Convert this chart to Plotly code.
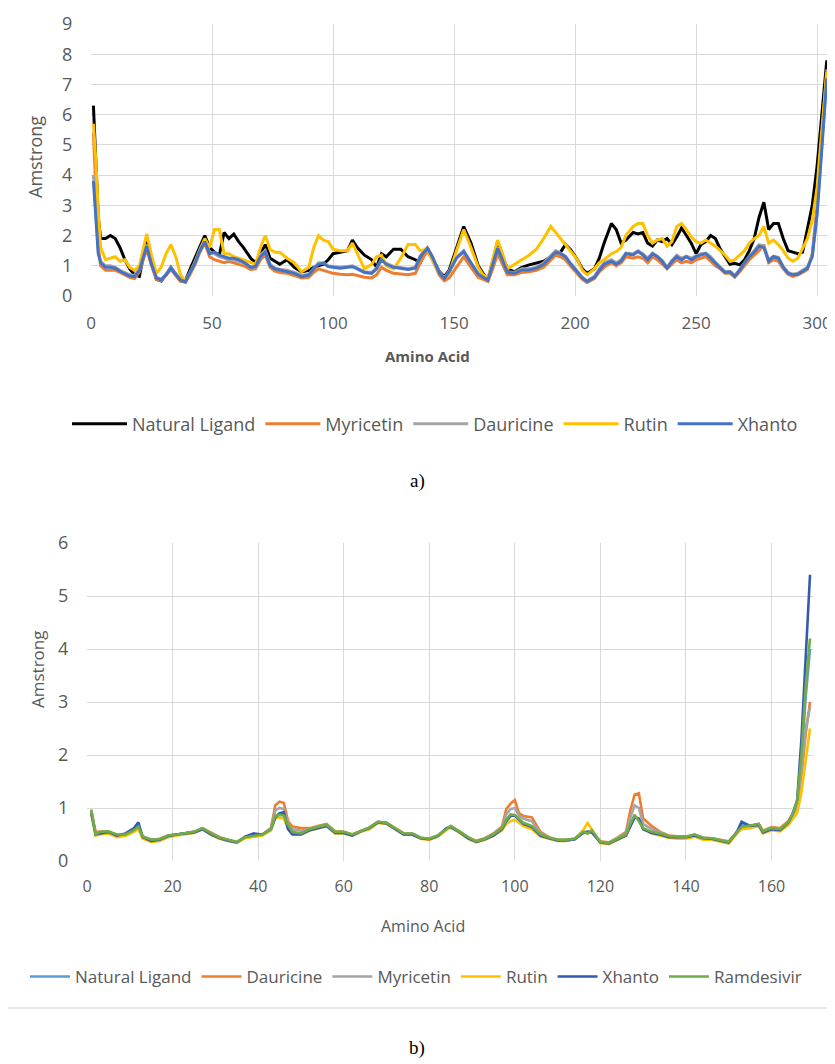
import plotly.graph_objects as go

# ---------------- Panel a) ----------------
X_A = [
    1, 2, 3, 4, 6, 8, 10, 12, 14, 16,
    18, 20, 23, 25, 27, 29, 31, 33, 35, 37,
    39, 41, 43, 45, 47, 49, 51, 53, 55, 57,
    59, 61, 63, 66, 68, 70, 72, 74, 76, 78,
    81, 84, 87, 90, 92, 94, 96, 98, 100, 103,
    106, 108, 110, 113, 116, 118, 120, 122, 125, 128,
    131, 134, 136, 139, 141, 144, 146, 148, 151, 154,
    157, 160, 162, 164, 166, 168, 170, 172, 175, 178,
    181, 184, 187, 190, 192, 194, 196, 198, 201, 203,
    205, 208, 210, 212, 215, 217, 219, 221, 224, 226,
    228, 230, 232, 234, 236, 238, 240, 242, 244, 246,
    248, 250, 252, 254, 256, 258, 260, 262, 264, 266,
    268, 270, 272, 274, 276, 278, 280, 282, 284, 286,
    288, 290, 292, 294, 296, 298, 300, 301, 302, 304,
]

A_NATURAL_LIGAND = [
    6.3, 4.2, 2.6, 1.9, 1.9, 2.0, 1.9, 1.6, 1.2, 0.9,
    0.7, 0.65, 1.85, 1.2, 0.55, 0.5, 0.7, 0.95, 0.7, 0.5,
    0.5, 0.9, 1.25, 1.6, 2.0, 1.6, 1.45, 1.35, 2.1, 1.9,
    2.05, 1.8, 1.6, 1.25, 1.1, 1.4, 1.7, 1.25, 1.15, 1.05,
    1.2, 0.95, 0.8, 0.85, 0.95, 1.0, 1.05, 1.2, 1.4, 1.45,
    1.5, 1.85, 1.6, 1.35, 1.2, 0.95, 1.4, 1.3, 1.55, 1.55,
    1.3, 1.2, 1.1, 1.6, 1.25, 0.8, 0.64, 0.86, 1.6, 2.3,
    1.75, 1.0, 0.75, 0.55, 1.15, 1.8, 1.35, 0.9, 0.8, 0.95,
    1.03, 1.1, 1.15, 1.3, 1.4, 1.45, 1.7, 1.55, 1.2, 0.9,
    0.75, 0.9, 1.25, 1.75, 2.4, 2.2, 1.75, 1.85, 2.1, 2.05,
    2.1, 1.75, 1.65, 1.85, 1.8, 1.9, 1.7, 1.95, 2.25, 2.0,
    1.75, 1.4, 1.7, 1.8, 2.0, 1.9, 1.55, 1.3, 1.05, 1.08,
    1.03, 1.2, 1.5, 1.9, 2.6, 3.1, 2.2, 2.4, 2.4, 1.9,
    1.5, 1.45, 1.4, 1.45, 2.2, 3.0, 4.3, 5.2, 6.1, 7.8,
]

A_MYRICETIN = [
    5.4, 3.5, 1.6, 1.0, 0.85, 0.85, 0.85, 0.78, 0.7, 0.62,
    0.58, 0.8, 1.55, 1.0, 0.55, 0.5, 0.68, 0.88, 0.68, 0.5,
    0.45, 0.72, 1.05, 1.45, 1.75, 1.3, 1.2, 1.15, 1.1, 1.15,
    1.1, 1.05, 1.0, 0.88, 0.9, 1.2, 1.35, 0.95, 0.82, 0.78,
    0.75, 0.68, 0.6, 0.62, 0.78, 0.9, 0.85, 0.78, 0.75, 0.72,
    0.7, 0.72, 0.68, 0.62, 0.6, 0.7, 0.95, 0.85, 0.75, 0.72,
    0.7, 0.75, 1.1, 1.5, 1.2, 0.68, 0.5, 0.6, 0.95, 1.3,
    0.95, 0.62, 0.55, 0.48, 0.9, 1.4, 1.05, 0.7, 0.7, 0.78,
    0.8, 0.85, 0.95, 1.2, 1.35, 1.3, 1.2, 1.0, 0.72, 0.55,
    0.45, 0.58, 0.8, 0.95, 1.1, 1.0, 1.1, 1.3, 1.25, 1.3,
    1.25, 1.1, 1.3, 1.2, 1.05, 0.9, 1.05, 1.2, 1.1, 1.15,
    1.1, 1.2, 1.25, 1.3, 1.15, 1.0, 0.9, 0.75, 0.75, 0.62,
    0.8, 1.0, 1.2, 1.35, 1.5, 1.7, 1.1, 1.2, 1.15, 0.9,
    0.72, 0.65, 0.7, 0.78, 0.88, 1.4, 3.0, 4.2, 5.3, 7.5,
]

A_DAURICINE = [
    4.0, 2.7, 1.5, 1.15, 1.0, 1.0, 0.95, 0.85, 0.78, 0.7,
    0.68, 0.9, 1.7, 1.1, 0.62, 0.55, 0.72, 0.95, 0.75, 0.55,
    0.5, 0.8, 1.12, 1.55, 1.85, 1.45, 1.4, 1.3, 1.25, 1.2,
    1.2, 1.15, 1.1, 0.95, 0.95, 1.35, 1.5, 1.05, 0.92, 0.88,
    0.85, 0.78, 0.68, 0.72, 0.92, 1.1, 1.1, 1.0, 0.98, 0.95,
    0.98, 1.0, 0.92, 0.8, 0.78, 0.92, 1.22, 1.08, 0.98, 0.95,
    0.9, 0.95, 1.32, 1.6, 1.32, 0.78, 0.6, 0.82, 1.28, 1.5,
    1.1, 0.75, 0.65, 0.56, 1.1, 1.6, 1.22, 0.8, 0.78, 0.9,
    0.9, 0.95, 1.1, 1.35, 1.5, 1.42, 1.32, 1.1, 0.8, 0.62,
    0.5, 0.65, 0.9, 1.1, 1.2, 1.1, 1.2, 1.42, 1.4, 1.5,
    1.4, 1.25, 1.42, 1.32, 1.18, 0.95, 1.18, 1.35, 1.25, 1.32,
    1.25, 1.32, 1.4, 1.42, 1.3, 1.12, 0.95, 0.8, 0.82, 0.68,
    0.88, 1.12, 1.32, 1.5, 1.7, 1.65, 1.2, 1.32, 1.28, 0.98,
    0.78, 0.72, 0.75, 0.85, 0.95, 1.35, 2.8, 3.9, 5.1, 7.3,
]

A_RUTIN = [
    5.7, 4.5, 2.8, 1.6, 1.2, 1.25, 1.3, 1.15, 1.2, 0.95,
    0.85, 1.0, 2.05, 1.35, 0.75, 0.95, 1.4, 1.7, 1.3, 0.7,
    0.5, 0.75, 1.15, 1.5, 1.9, 1.6, 2.2, 2.2, 1.4, 1.4,
    1.3, 1.25, 1.2, 1.1, 1.05, 1.6, 2.0, 1.55, 1.45, 1.45,
    1.25, 1.1, 0.8, 0.95, 1.6, 2.0, 1.85, 1.8, 1.55, 1.5,
    1.5, 1.75, 1.4, 0.9, 1.05, 1.3, 1.35, 1.0, 0.9, 1.25,
    1.7, 1.7, 1.5, 1.55, 1.2, 0.75, 0.6, 0.75, 1.5, 2.2,
    1.6, 0.95, 0.7, 0.6, 1.2, 1.85, 1.4, 0.9, 1.05, 1.2,
    1.35, 1.55, 1.9, 2.3, 2.1, 1.9, 1.7, 1.5, 1.2, 0.85,
    0.7, 0.9, 1.1, 1.2, 1.4, 1.47, 1.6, 2.0, 2.3, 2.4,
    2.4, 2.0, 1.75, 1.85, 1.9, 1.65, 1.8, 2.3, 2.4, 2.2,
    1.95, 1.8, 1.75, 1.85, 1.75, 1.65, 1.5, 1.35, 1.15, 1.2,
    1.35, 1.5, 1.75, 1.9, 2.0, 2.3, 1.75, 1.85, 1.7, 1.5,
    1.25, 1.15, 1.25, 1.6, 1.9, 2.5, 3.6, 4.6, 5.6, 7.4,
]

A_XHANTO = [
    3.8, 2.5, 1.4, 1.1, 0.95, 0.95, 0.92, 0.82, 0.75, 0.66,
    0.64, 0.85, 1.65, 1.05, 0.6, 0.53, 0.7, 0.92, 0.72, 0.53,
    0.47, 0.78, 1.1, 1.5, 1.8, 1.4, 1.45, 1.35, 1.3, 1.25,
    1.25, 1.2, 1.12, 0.95, 0.98, 1.3, 1.45, 1.0, 0.9, 0.86,
    0.8, 0.75, 0.64, 0.7, 0.9, 1.05, 1.08, 0.97, 0.95, 0.92,
    0.95, 0.97, 0.9, 0.78, 0.75, 0.9, 1.2, 1.05, 0.95, 0.92,
    0.88, 0.92, 1.3, 1.58, 1.3, 0.75, 0.58, 0.8, 1.25, 1.47,
    1.08, 0.72, 0.62, 0.53, 1.05, 1.58, 1.2, 0.78, 0.75, 0.86,
    0.86, 0.92, 1.05, 1.3, 1.45, 1.4, 1.3, 1.08, 0.78, 0.6,
    0.48, 0.62, 0.85, 1.05, 1.15, 1.05, 1.15, 1.4, 1.36, 1.47,
    1.36, 1.2, 1.4, 1.3, 1.14, 0.92, 1.14, 1.3, 1.2, 1.3,
    1.2, 1.3, 1.36, 1.4, 1.25, 1.08, 0.92, 0.78, 0.8, 0.65,
    0.85, 1.1, 1.3, 1.45, 1.65, 1.6, 1.15, 1.3, 1.25, 0.95,
    0.75, 0.7, 0.72, 0.82, 0.92, 1.3, 2.7, 3.8, 5.0, 7.2,
]

NAMES_A = ["Natural Ligand", "Myricetin", "Dauricine", "Rutin", "Xhanto"]
VALUES_A = [A_NATURAL_LIGAND, A_MYRICETIN, A_DAURICINE, A_RUTIN, A_XHANTO]
COLORS_A = ["#000000", "#ED7D31", "#A5A5A5", "#FFC000", "#4472C4"]
TICKS_A_X = [0, 50, 100, 150, 200, 250, 300]
TICKS_A_Y = [0, 1, 2, 3, 4, 5, 6, 7, 8, 9]

# ---------------- Panel b) ----------------
X_B = [
    1, 2, 3, 5, 7, 9, 11, 12, 13, 15,
    17, 19, 21, 23, 25, 27, 29, 31, 33, 35,
    37, 39, 41, 43, 44, 45, 46, 47, 48, 50,
    52, 54, 56, 58, 60, 62, 64, 66, 68, 70,
    72, 74, 76, 78, 80, 82, 84, 85, 87, 89,
    91, 93, 95, 97, 98, 99, 100, 101, 102, 104,
    106, 108, 110, 112, 114, 116, 117, 118, 120, 122,
    124, 126, 127, 128, 129, 130, 132, 134, 136, 138,
    140, 142, 144, 146, 148, 150, 152, 153, 155, 157,
    158, 160, 162, 164, 165, 166, 167, 168, 169,
]

B_NATURAL_LIGAND = [
    0.92, 0.52, 0.54, 0.55, 0.48, 0.5, 0.6, 0.68, 0.46, 0.39,
    0.41, 0.48, 0.5, 0.52, 0.55, 0.61, 0.51, 0.44, 0.39, 0.35,
    0.46, 0.5, 0.5, 0.6, 0.84, 0.88, 0.88, 0.65, 0.53, 0.51,
    0.59, 0.63, 0.67, 0.54, 0.54, 0.49, 0.56, 0.62, 0.73, 0.71,
    0.61, 0.51, 0.51, 0.43, 0.41, 0.47, 0.61, 0.65, 0.55, 0.44,
    0.36, 0.41, 0.49, 0.61, 0.77, 0.86, 0.86, 0.79, 0.71, 0.65,
    0.49, 0.43, 0.39, 0.39, 0.41, 0.54, 0.53, 0.56, 0.35, 0.33,
    0.41, 0.49, 0.68, 0.85, 0.78, 0.61, 0.54, 0.51, 0.46, 0.45,
    0.45, 0.49, 0.43, 0.42, 0.39, 0.35, 0.55, 0.68, 0.66, 0.69,
    0.55, 0.61, 0.59, 0.74, 0.9, 1.1, 1.9, 3.1, 4.0,
]

B_DAURICINE = [
    0.95, 0.55, 0.55, 0.55, 0.48, 0.5, 0.6, 0.66, 0.47, 0.4,
    0.42, 0.48, 0.5, 0.52, 0.55, 0.62, 0.53, 0.45, 0.4, 0.36,
    0.44, 0.47, 0.5, 0.62, 1.05, 1.12, 1.1, 0.75, 0.65, 0.62,
    0.62, 0.66, 0.7, 0.56, 0.55, 0.5, 0.57, 0.63, 0.74, 0.72,
    0.62, 0.52, 0.52, 0.44, 0.42, 0.48, 0.6, 0.66, 0.56, 0.45,
    0.38, 0.43, 0.52, 0.65, 0.98, 1.08, 1.15, 0.9, 0.85, 0.82,
    0.55, 0.45, 0.4, 0.4, 0.42, 0.55, 0.52, 0.56, 0.37, 0.35,
    0.44, 0.55, 0.95, 1.25, 1.28, 0.8, 0.66, 0.55, 0.48, 0.46,
    0.45, 0.5, 0.44, 0.43, 0.4, 0.37, 0.55, 0.62, 0.66, 0.7,
    0.57, 0.64, 0.62, 0.76, 0.88, 1.0, 1.6, 2.4, 3.0,
]

B_MYRICETIN = [
    0.93, 0.53, 0.54, 0.55, 0.49, 0.5, 0.59, 0.66, 0.46, 0.4,
    0.41, 0.48, 0.5, 0.52, 0.55, 0.62, 0.52, 0.44, 0.39, 0.36,
    0.45, 0.48, 0.5, 0.61, 0.95, 1.0, 0.98, 0.7, 0.6, 0.57,
    0.6, 0.65, 0.69, 0.55, 0.54, 0.5, 0.57, 0.63, 0.74, 0.72,
    0.62, 0.52, 0.52, 0.44, 0.42, 0.48, 0.6, 0.66, 0.56, 0.45,
    0.37, 0.42, 0.5, 0.63, 0.88, 0.98, 1.0, 0.85, 0.8, 0.75,
    0.52, 0.44, 0.4, 0.4, 0.42, 0.55, 0.55, 0.57, 0.36, 0.34,
    0.43, 0.52, 0.82, 1.05, 1.0, 0.7, 0.6, 0.53, 0.47, 0.46,
    0.45, 0.5, 0.44, 0.43, 0.4, 0.36, 0.55, 0.63, 0.66, 0.7,
    0.56, 0.63, 0.61, 0.75, 0.88, 1.05, 1.7, 2.5, 2.9,
]

B_RUTIN = [
    0.9, 0.48, 0.5, 0.52, 0.45, 0.47, 0.55, 0.6, 0.42, 0.36,
    0.38, 0.45, 0.48, 0.5, 0.53, 0.6, 0.5, 0.42, 0.38, 0.34,
    0.43, 0.46, 0.48, 0.58, 0.8, 0.82, 0.8, 0.62, 0.52, 0.5,
    0.57, 0.62, 0.66, 0.52, 0.52, 0.48, 0.55, 0.6, 0.72, 0.7,
    0.6, 0.5, 0.5, 0.42, 0.4, 0.46, 0.58, 0.63, 0.54, 0.42,
    0.35, 0.4, 0.48, 0.58, 0.7, 0.75, 0.78, 0.72, 0.66, 0.6,
    0.46, 0.42, 0.38, 0.38, 0.42, 0.58, 0.72, 0.6, 0.34, 0.32,
    0.4, 0.48, 0.65, 0.85, 0.78, 0.62, 0.52, 0.48, 0.44, 0.42,
    0.42, 0.46, 0.4, 0.4, 0.37, 0.33, 0.52, 0.6, 0.62, 0.66,
    0.52, 0.58, 0.56, 0.68, 0.8, 0.9, 1.3, 1.9, 2.5,
]

B_XHANTO = [
    0.9, 0.5, 0.52, 0.55, 0.48, 0.52, 0.62, 0.73, 0.45, 0.38,
    0.4, 0.47, 0.5, 0.52, 0.54, 0.6, 0.5, 0.43, 0.38, 0.35,
    0.46, 0.52, 0.5, 0.6, 0.82, 0.9, 0.92, 0.6, 0.5, 0.5,
    0.58, 0.62, 0.66, 0.53, 0.53, 0.48, 0.56, 0.62, 0.73, 0.71,
    0.6, 0.5, 0.5, 0.43, 0.41, 0.47, 0.62, 0.64, 0.55, 0.43,
    0.36, 0.41, 0.48, 0.6, 0.75, 0.85, 0.86, 0.78, 0.7, 0.64,
    0.48, 0.43, 0.39, 0.39, 0.41, 0.53, 0.55, 0.54, 0.35, 0.33,
    0.41, 0.48, 0.65, 0.82, 0.8, 0.6, 0.53, 0.5, 0.45, 0.45,
    0.45, 0.48, 0.43, 0.42, 0.39, 0.35, 0.56, 0.74, 0.66, 0.68,
    0.54, 0.6, 0.58, 0.73, 0.9, 1.15, 2.3, 3.9, 5.4,
]

B_RAMDESIVIR = [
    0.97, 0.5, 0.55, 0.56, 0.5, 0.5, 0.58, 0.65, 0.46, 0.4,
    0.41, 0.48, 0.5, 0.52, 0.55, 0.62, 0.52, 0.44, 0.4, 0.36,
    0.45, 0.48, 0.5, 0.6, 0.85, 0.87, 0.86, 0.68, 0.55, 0.52,
    0.6, 0.64, 0.68, 0.55, 0.55, 0.5, 0.57, 0.63, 0.74, 0.72,
    0.62, 0.52, 0.52, 0.44, 0.42, 0.48, 0.6, 0.66, 0.56, 0.45,
    0.37, 0.42, 0.5, 0.62, 0.78, 0.88, 0.87, 0.8, 0.72, 0.66,
    0.5, 0.44, 0.4, 0.4, 0.42, 0.55, 0.52, 0.58, 0.36, 0.34,
    0.42, 0.5, 0.7, 0.87, 0.75, 0.62, 0.55, 0.52, 0.47, 0.46,
    0.46, 0.5, 0.44, 0.43, 0.4, 0.36, 0.55, 0.64, 0.67, 0.7,
    0.56, 0.62, 0.6, 0.74, 0.9, 1.15, 2.0, 3.3, 4.2,
]

NAMES_B = ["Natural Ligand", "Dauricine", "Myricetin", "Rutin", "Xhanto", "Ramdesivir"]
VALUES_B = [B_NATURAL_LIGAND, B_DAURICINE, B_MYRICETIN, B_RUTIN, B_XHANTO, B_RAMDESIVIR]
COLORS_B = ["#5B9BD5", "#ED7D31", "#A5A5A5", "#FFC000", "#3559B0", "#70AD47"]
TICKS_B_X = [0, 20, 40, 60, 80, 100, 120, 140, 160]
TICKS_B_Y = [0, 1, 2, 3, 4, 5, 6]

W, H = 835, 1064
PAGE_OFFSET = 8  # default page margin around the plot div
TXT = "#595959"
GRID = "#D9D9D9"
FONT = "Open Sans, DejaVu Sans, sans-serif"


def px_x(p):
    return (p - PAGE_OFFSET) / W


def px_y(p):
    return 1 - (p - PAGE_OFFSET) / H


fig = go.Figure()

for name, vals, col in zip(NAMES_A, VALUES_A, COLORS_A):
    fig.add_trace(go.Scatter(
        x=X_A, y=vals, name=name, mode="lines",
        line=dict(color=col, width=3),
        xaxis="x", yaxis="y", legend="legend",
    ))

for name, vals, col in zip(NAMES_B, VALUES_B, COLORS_B):
    fig.add_trace(go.Scatter(
        x=X_B, y=vals, name=name, mode="lines",
        line=dict(color=col, width=2.6),
        xaxis="x2", yaxis="y2", legend="legend2",
    ))

axis_common = dict(
    showgrid=True, gridcolor=GRID, gridwidth=1.3,
    zeroline=False, showline=False,
    ticks="outside", tickcolor="rgba(0,0,0,0)",
    fixedrange=True, automargin=False,
    ticklabeloverflow="allow",
)

fig.update_layout(
    width=W, height=H,
    margin=dict(l=0, r=0, t=0, b=0, autoexpand=False),
    paper_bgcolor="white", plot_bgcolor="white",
    font=dict(family=FONT, color=TXT),
    xaxis=dict(
        domain=[px_x(91), px_x(828)], range=[0, 304.5],
        tickvals=TICKS_A_X, ticklen=12,
        tickfont=dict(size=17, color=TXT), anchor="y",
        **axis_common,
    ),
    yaxis=dict(
        domain=[px_y(296), px_y(24)], range=[0, 9],
        tickvals=TICKS_A_Y, ticklen=14,
        tickfont=dict(size=18, color=TXT), anchor="x",
        **axis_common,
    ),
    xaxis2=dict(
        domain=[px_x(87), px_x(813)], range=[0, 169.7],
        tickvals=TICKS_B_X, ticklen=11,
        tickfont=dict(size=16, color=TXT), anchor="y2",
        **axis_common,
    ),
    yaxis2=dict(
        domain=[px_y(861), px_y(543)], range=[0, 6],
        tickvals=TICKS_B_Y, ticklen=14,
        tickfont=dict(size=18, color=TXT), anchor="x2",
        **axis_common,
    ),
    legend=dict(
        orientation="h", x=px_x(435), xanchor="center",
        y=px_y(424), yanchor="middle",
        font=dict(size=18, color=TXT), itemwidth=55,
        bgcolor="rgba(0,0,0,0)", traceorder="normal",
    ),
    legend2=dict(
        orientation="h", x=px_x(416), xanchor="center",
        y=px_y(977), yanchor="middle",
        font=dict(size=17, color=TXT), itemwidth=40,
        bgcolor="rgba(0,0,0,0)", traceorder="normal",
    ),
    showlegend=True,
)

annotations = [
    dict(text="Amstrong", x=px_x(35), y=px_y(157), textangle=-90,
         font=dict(size=18, color=TXT)),
    dict(text="<b>Amino Acid</b>", x=px_x(427), y=px_y(356),
         font=dict(size=15, color=TXT)),
    dict(text="a)", x=px_x(417), y=px_y(481),
         font=dict(size=19, color="#000000", family="Liberation Serif, Times New Roman, serif")),
    dict(text="Amstrong", x=px_x(37), y=px_y(670), textangle=-90,
         font=dict(size=17, color=TXT)),
    dict(text="Amino Acid", x=px_x(423), y=px_y(926),
         font=dict(size=16, color=TXT)),
    dict(text="b)", x=px_x(417), y=px_y(1048),
         font=dict(size=19, color="#000000", family="Liberation Serif, Times New Roman, serif")),
]
for a in annotations:
    a.update(xref="paper", yref="paper", showarrow=False,
             xanchor="center", yanchor="middle")
fig.update_layout(annotations=annotations)

fig.add_shape(type="line", xref="paper", yref="paper",
              x0=px_x(5), x1=1.0, y0=px_y(1008), y1=px_y(1008),
              line=dict(color="#E3E3E3", width=1.5))

fig.write_html("out.html")
